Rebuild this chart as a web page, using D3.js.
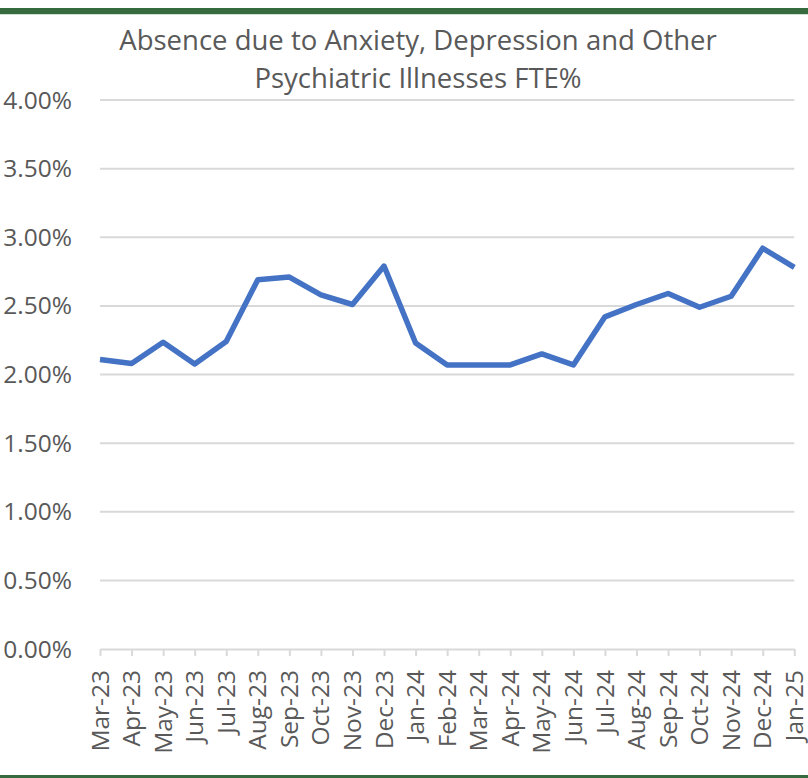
<html>
<head>
<title>Absence FTE%</title>
<script src="https://d3js.org/d3.v7.min.js"></script>
<style>
body { margin: 0; background: #fff; font-family: 'Open Sans', sans-serif; }
svg { display: block; }
.grid line { stroke: #d9d9d9; stroke-width: 2; }
.ylab text, .xlab text { fill: #595959; }
</style>
</head>
<body>
<svg width="808" height="778"></svg>
<script>

var months = ["Mar-23","Apr-23","May-23","Jun-23","Jul-23","Aug-23","Sep-23","Oct-23","Nov-23","Dec-23",
  "Jan-24","Feb-24","Mar-24","Apr-24","May-24","Jun-24","Jul-24","Aug-24","Sep-24","Oct-24","Nov-24","Dec-24","Jan-25"];
var fte = [2.11, 2.08, 2.235, 2.077, 2.24, 2.69, 2.71, 2.58, 2.51, 2.79,
  2.23, 2.07, 2.07, 2.07, 2.15, 2.07, 2.42, 2.51, 2.59, 2.49, 2.57, 2.92, 2.78];
var yTicks = [0, 0.5, 1, 1.5, 2, 2.5, 3, 3.5, 4];
var titleLines = ["Absence due to Anxiety, Depression and Other", "Psychiatric Illnesses FTE%"];

var svg = d3.select("svg");

// green frame lines
svg.append("rect").attr("x", 0).attr("y", 8).attr("width", 808).attr("height", 6).attr("fill", "#356b3f");
svg.append("rect").attr("x", 0).attr("y", 14).attr("width", 808).attr("height", 1).attr("fill", "#cfe3d2");
svg.append("rect").attr("x", 0).attr("y", 775).attr("width", 808).attr("height", 3).attr("fill", "#356b3f");

var x = d3.scalePoint().domain(months).range([100, 794.3]);
var y = d3.scaleLinear().domain([0, 4]).range([649, 100]);

// title
svg.append("g").selectAll("text").data(titleLines).enter().append("text")
  .attr("x", 418).attr("y", function (d, i) { return 50 + i * 38; })
  .attr("text-anchor", "middle")
  .attr("fill", "#595959")
  .style("font-size", "27.5px")
  .text(function (d) { return d; });

// gridlines
svg.append("g").attr("class", "grid").selectAll("line").data(yTicks.filter(function (d) { return d > 0; }))
  .enter().append("line")
  .attr("x1", 100).attr("x2", 794.3)
  .attr("y1", function (d) { return y(d); }).attr("y2", function (d) { return y(d); });

// y labels
svg.append("g").attr("class", "ylab").selectAll("text").data(yTicks).enter().append("text")
  .attr("x", 72).attr("y", function (d) { return y(d); })
  .attr("dy", "0.35em")
  .attr("text-anchor", "end")
  .style("font-size", "24.5px")
  .text(function (d) { return d.toFixed(2) + "%"; });

// x axis
var xAxis = svg.append("g").attr("transform", "translate(0,649)")
  .call(d3.axisBottom(x).tickSize(7).tickSizeOuter(0).tickFormat(""));
xAxis.select(".domain").attr("stroke", "#d9d9d9").attr("stroke-width", 2);
xAxis.selectAll(".tick line").attr("stroke", "#d9d9d9").attr("stroke-width", 2);

svg.append("g").attr("class", "xlab").selectAll("text").data(months).enter().append("text")
  .attr("transform", function (d) { return "translate(" + x(d) + ",670) rotate(-90)"; })
  .attr("dy", "0.35em")
  .attr("text-anchor", "end")
  .style("font-size", "24.5px")
  .text(function (d) { return d; });

// line
var line = d3.line()
  .x(function (d, i) { return x(months[i]); })
  .y(function (d) { return y(d); });

svg.append("path").datum(fte)
  .attr("d", line)
  .attr("fill", "none")
  .attr("stroke", "#4472c4")
  .attr("stroke-width", 5.5)
  .attr("stroke-linejoin", "round");

</script>
</body>
</html>
